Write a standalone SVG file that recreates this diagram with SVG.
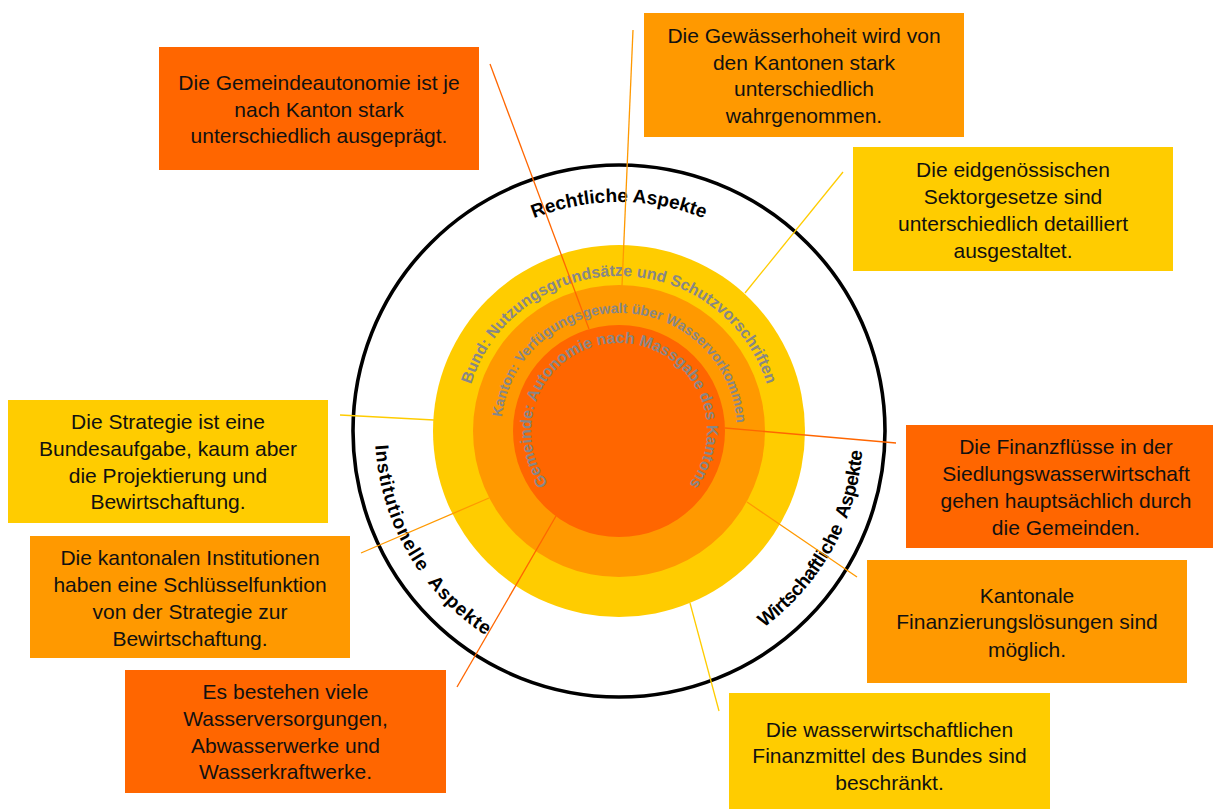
<svg xmlns="http://www.w3.org/2000/svg" xmlns:xlink="http://www.w3.org/1999/xlink" width="1213" height="809" viewBox="0 0 1213 809">
  <style>
    .box-t { font-family: "Liberation Sans", Arial, sans-serif; font-size: 21px; fill: #111; text-anchor: middle; }
    .ring-t { font-family: "Liberation Sans", Arial, sans-serif; font-weight: bold; fill: #878787; text-anchor: middle; }
    .aspect-t { font-family: "Liberation Sans", Arial, sans-serif; font-weight: bold; font-size: 19px; fill: #000; text-anchor: middle; }
    .c-red { stroke: #FF6600; }
    .c-org { stroke: #FF9900; }
    .c-yel { stroke: #FFCC00; }
    .fill-red { fill: #FF6600; }
    .fill-org { fill: #FF9900; }
    .fill-yel { fill: #FFCC00; }
    #connectors line { stroke-width: 1.3; fill: none; }
  </style>
  <defs>
    <!-- clockwise circles starting at the bottom (text reads over the top, glyphs point outward) -->
    <path id="cw155" d="M619,586 A155,155 0 1 1 619,276 A155,155 0 1 1 619,586"/>
    <path id="cw118" d="M619,549 A118,118 0 1 1 619,313 A118,118 0 1 1 619,549"/>
    <path id="cw88" d="M619,519 A88,88 0 1 1 619,343 A88,88 0 1 1 619,519"/>
    <path id="cw229" d="M619,660 A229,229 0 1 1 619,202 A229,229 0 1 1 619,660"/>
    <!-- counter-clockwise circle starting at the top (text reads along the lower half, glyphs point inward) -->
    <path id="ccw244" d="M619,187 A244,244 0 1 0 619,675 A244,244 0 1 0 619,187"/>
  </defs>

  <rect width="1213" height="809" fill="#fff"/>

  <!-- concentric levels -->
  <g id="rings">
    <circle cx="619" cy="431" r="266" fill="none" stroke="#000" stroke-width="3.6"/>
    <circle cx="619" cy="431" r="186" class="fill-yel"/>
    <circle cx="619" cy="431" r="146" class="fill-org"/>
    <circle cx="619" cy="431" r="106" class="fill-red"/>
  </g>

  <!-- level labels -->
  <g id="ring-labels">
    <text class="ring-t" font-size="16"><textPath href="#cw155" xlink:href="#cw155" startOffset="50%">Bund: Nutzungsgrundsätze und Schutzvorschriften</textPath></text>
    <text class="ring-t" font-size="14.2"><textPath href="#cw118" xlink:href="#cw118" startOffset="50.4%">Kanton: Verfügungsgewalt über Wasservorkommen</textPath></text>
    <text class="ring-t" font-size="15.8"><textPath href="#cw88" xlink:href="#cw88" startOffset="50.1%">Gemeinde: Autonomie nach Massgabe des Kantons</textPath></text>
  </g>

  <!-- aspect labels -->
  <g id="aspects">
    <text class="aspect-t"><textPath href="#cw229" xlink:href="#cw229" startOffset="50%">Rechtliche Aspekte</textPath></text>
    <text class="aspect-t" letter-spacing="0.9"><textPath href="#ccw244" xlink:href="#ccw244" startOffset="33.4%">Institutionelle&#160; Aspekte</textPath></text>
    <text class="aspect-t" letter-spacing="-0.5"><textPath href="#ccw244" xlink:href="#ccw244" startOffset="66.9%">Wirtschaftliche&#160; Aspekte</textPath></text>
  </g>

  <!-- connectors -->
  <g id="connectors">
    <line class="c-red" x1="490" y1="64" x2="589" y2="329"/>
    <line class="c-org" x1="633" y1="30" x2="622" y2="286"/>
    <line class="c-yel" x1="843" y1="172" x2="745" y2="293"/>
    <line class="c-yel" x1="340" y1="415" x2="434" y2="420"/>
    <line class="c-org" x1="361" y1="553" x2="489" y2="498"/>
    <line class="c-red" x1="457" y1="687" x2="556" y2="516"/>
    <line class="c-red" x1="725" y1="428" x2="896" y2="443"/>
    <line class="c-org" x1="747" y1="502" x2="857" y2="577"/>
    <line class="c-yel" x1="690" y1="603" x2="719" y2="711"/>
  </g>

  <!-- statement boxes -->
  <g id="box-gemeindeautonomie">
    <rect x="159" y="47" width="320" height="123" class="fill-red"/>
    <text class="box-t"><tspan x="319" y="90">Die Gemeindeautonomie ist je</tspan><tspan x="319" y="117">nach Kanton stark</tspan><tspan x="319" y="143">unterschiedlich ausgeprägt.</tspan></text>
  </g>
  <g id="box-gewaesserhoheit">
    <rect x="644" y="13" width="320" height="124" class="fill-org"/>
    <text class="box-t"><tspan x="804" y="43">Die Gewässerhoheit wird von</tspan><tspan x="804" y="70">den Kantonen stark</tspan><tspan x="804" y="96">unterschiedlich</tspan><tspan x="804" y="123">wahrgenommen.</tspan></text>
  </g>
  <g id="box-sektorgesetze">
    <rect x="853" y="147" width="320" height="124" class="fill-yel"/>
    <text class="box-t"><tspan x="1013" y="177">Die eidgenössischen</tspan><tspan x="1013" y="204">Sektorgesetze sind</tspan><tspan x="1013" y="231">unterschiedlich detailliert</tspan><tspan x="1013" y="258">ausgestaltet.</tspan></text>
  </g>
  <g id="box-strategie">
    <rect x="8" y="400" width="320" height="123" class="fill-yel"/>
    <text class="box-t"><tspan x="168" y="429">Die Strategie ist eine</tspan><tspan x="168" y="456">Bundesaufgabe, kaum aber</tspan><tspan x="168" y="483">die Projektierung und</tspan><tspan x="168" y="509">Bewirtschaftung.</tspan></text>
  </g>
  <g id="box-finanzfluesse">
    <rect x="906" y="425" width="320" height="123" class="fill-red"/>
    <text class="box-t"><tspan x="1066" y="454">Die Finanzflüsse in der</tspan><tspan x="1066" y="481">Siedlungswasserwirtschaft</tspan><tspan x="1066" y="508">gehen hauptsächlich durch</tspan><tspan x="1066" y="535">die Gemeinden.</tspan></text>
  </g>
  <g id="box-institutionen">
    <rect x="30" y="536" width="320" height="122" class="fill-org"/>
    <text class="box-t"><tspan x="190" y="565">Die kantonalen Institutionen</tspan><tspan x="190" y="592">haben eine Schlüsselfunktion</tspan><tspan x="190" y="619">von der Strategie zur</tspan><tspan x="190" y="646">Bewirtschaftung.</tspan></text>
  </g>
  <g id="box-finanzierung">
    <rect x="867" y="560" width="320" height="123" class="fill-org"/>
    <text class="box-t"><tspan x="1027" y="603">Kantonale</tspan><tspan x="1027" y="629">Finanzierungslösungen sind</tspan><tspan x="1027" y="657">möglich.</tspan></text>
  </g>
  <g id="box-werke">
    <rect x="125" y="670" width="321" height="123" class="fill-red"/>
    <text class="box-t"><tspan x="285.5" y="699">Es bestehen viele</tspan><tspan x="285.5" y="726">Wasserversorgungen,</tspan><tspan x="285.5" y="753">Abwasserwerke und</tspan><tspan x="285.5" y="779">Wasserkraftwerke.</tspan></text>
  </g>
  <g id="box-finanzmittel">
    <rect x="729" y="693" width="321" height="123" class="fill-yel"/>
    <text class="box-t"><tspan x="889.5" y="737">Die wasserwirtschaftlichen</tspan><tspan x="889.5" y="763">Finanzmittel des Bundes sind</tspan><tspan x="889.5" y="790">beschränkt.</tspan></text>
  </g>
</svg>
